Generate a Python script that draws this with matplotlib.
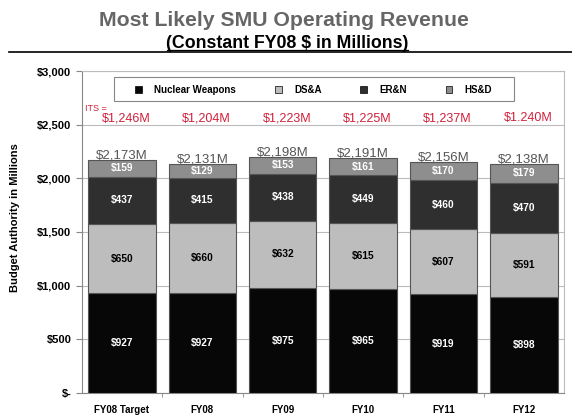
import matplotlib.pyplot as plt
from matplotlib.patches import Patch, Rectangle
from matplotlib.lines import Line2D
import numpy as np

plt.rcParams['font.family'] = ['Liberation Sans', 'DejaVu Sans']

# Datos del gráfico
years = ['FY08 Target', 'FY08', 'FY09', 'FY10', 'FY11', 'FY12']
nuclear = [927, 927, 975, 965, 919, 898]
dsa = [650, 660, 632, 615, 607, 591]
ern = [437, 415, 438, 449, 460, 470]
hsd = [159, 129, 153, 161, 170, 179]
totals = ['$2,173M', '$2,131M', '$2,198M', '$2,191M', '$2,156M', '$2,138M']
its = ['$1,246M', '$1,204M', '$1,223M', '$1,225M', '$1,237M', '$1.240M']

series = [('Nuclear Weapons', nuclear, '#070707', 'white'),
          ('DS&A', dsa, '#bdbdbd', 'black'),
          ('ER&N', ern, '#2f2f2f', 'white'),
          ('HS&D', hsd, '#8e8e8e', 'white')]

fig = plt.figure(figsize=(5.72, 4.18), dpi=100)
ax = fig.add_axes([0.143, 0.06, 0.843, 0.77])

x = np.arange(len(years))
bottom = np.zeros(len(years))
for name, vals, color, tcolor in series:
    bars = ax.bar(x, vals, 0.84, bottom=bottom, color=color,
                  edgecolor='#555555', linewidth=0.8, zorder=3)
    for b, v, y0 in zip(bars, vals, bottom):
        ax.text(b.get_x() + b.get_width() / 2, y0 + v / 2, '$%d' % v,
                ha='center', va='center', color=tcolor, fontsize=7.3,
                fontweight='bold', zorder=4)
    bottom += np.array(vals)

# Totales encima de las barras
for xi, top, t in zip(x, bottom, totals):
    ax.text(xi, top - 15, t, ha='center', va='bottom', color='#555555',
            fontsize=9.5, zorder=5)

# Valores ITS en rojo
for xi, t in zip(x, its):
    ax.text(xi + 0.05, 2562, t, ha='center', va='center', color='#d0203a',
            fontsize=9)
ax.text(0.006, 0.885, 'ITS =', transform=ax.transAxes, color='#d0203a',
        fontsize=6.5, ha='left', va='center', clip_on=False)

ax.set_xlim(-0.5, len(years) - 0.5)
ax.set_ylim(0, 3000)
ax.set_yticks(range(0, 3001, 500))
ax.set_yticklabels(['$-'] + ['${:,}'.format(v) for v in range(500, 3001, 500)],
                   fontweight='bold', fontsize=8)
ax.set_xticks(x)
ax.set_xticklabels(years, fontweight='bold', fontsize=7)
ax.set_xticks(np.arange(0.5, len(years) - 0.5), minor=True)
ax.tick_params(axis='x', which='major', length=0, pad=9)
ax.tick_params(axis='x', which='minor', length=3, color='#888888')
ax.tick_params(axis='y', length=4, color='#888888')
ax.grid(axis='y', color='#bbbbbb', linewidth=0.8, zorder=0)
for s in ax.spines.values():
    s.set_color('#bbbbbb')
ax.spines['left'].set_color('#888888')
ax.spines['bottom'].set_color('#888888')
ax.set_ylabel('Budget Authority in Millions', fontweight='bold', fontsize=8)
ax.yaxis.set_label_coords(-0.128, 0.545)

# Leyenda: marco dibujado aparte para imitar el relleno de la lámina
ax.add_patch(Rectangle((0.066, 0.907), 0.83, 0.074, transform=ax.transAxes,
                       facecolor='white', edgecolor='#888888', linewidth=0.8,
                       zorder=5))
handles = [Patch(facecolor=c, edgecolor='black', linewidth=0.5)
           for _, _, c, _ in series]
leg = ax.legend(handles, [s[0] for s in series], ncol=4, frameon=False,
                bbox_to_anchor=(0.111, 0.942), loc='center left',
                prop={'weight': 'bold', 'size': 7}, borderpad=0,
                borderaxespad=0, handlelength=0.7, handleheight=0.7,
                handletextpad=1.25, columnspacing=4.0)
leg.set_zorder(6)

# Títulos
fig.text(0.497, 0.952, 'Most Likely SMU Operating Revenue', ha='center',
         va='center', fontsize=15.3, fontweight='bold', color='#666666')
fig.text(0.502, 0.895, '(Constant FY08 $ in Millions)', ha='center',
         va='center', fontsize=12.8, fontweight='bold')
fig.add_artist(Line2D([0.016, 1], [0.875, 0.875], color='black', linewidth=1.2))
fig.add_artist(Line2D([0.292, 0.713], [0.881, 0.881], color='black', linewidth=0.9))

fig.savefig('out.png', dpi=100)
